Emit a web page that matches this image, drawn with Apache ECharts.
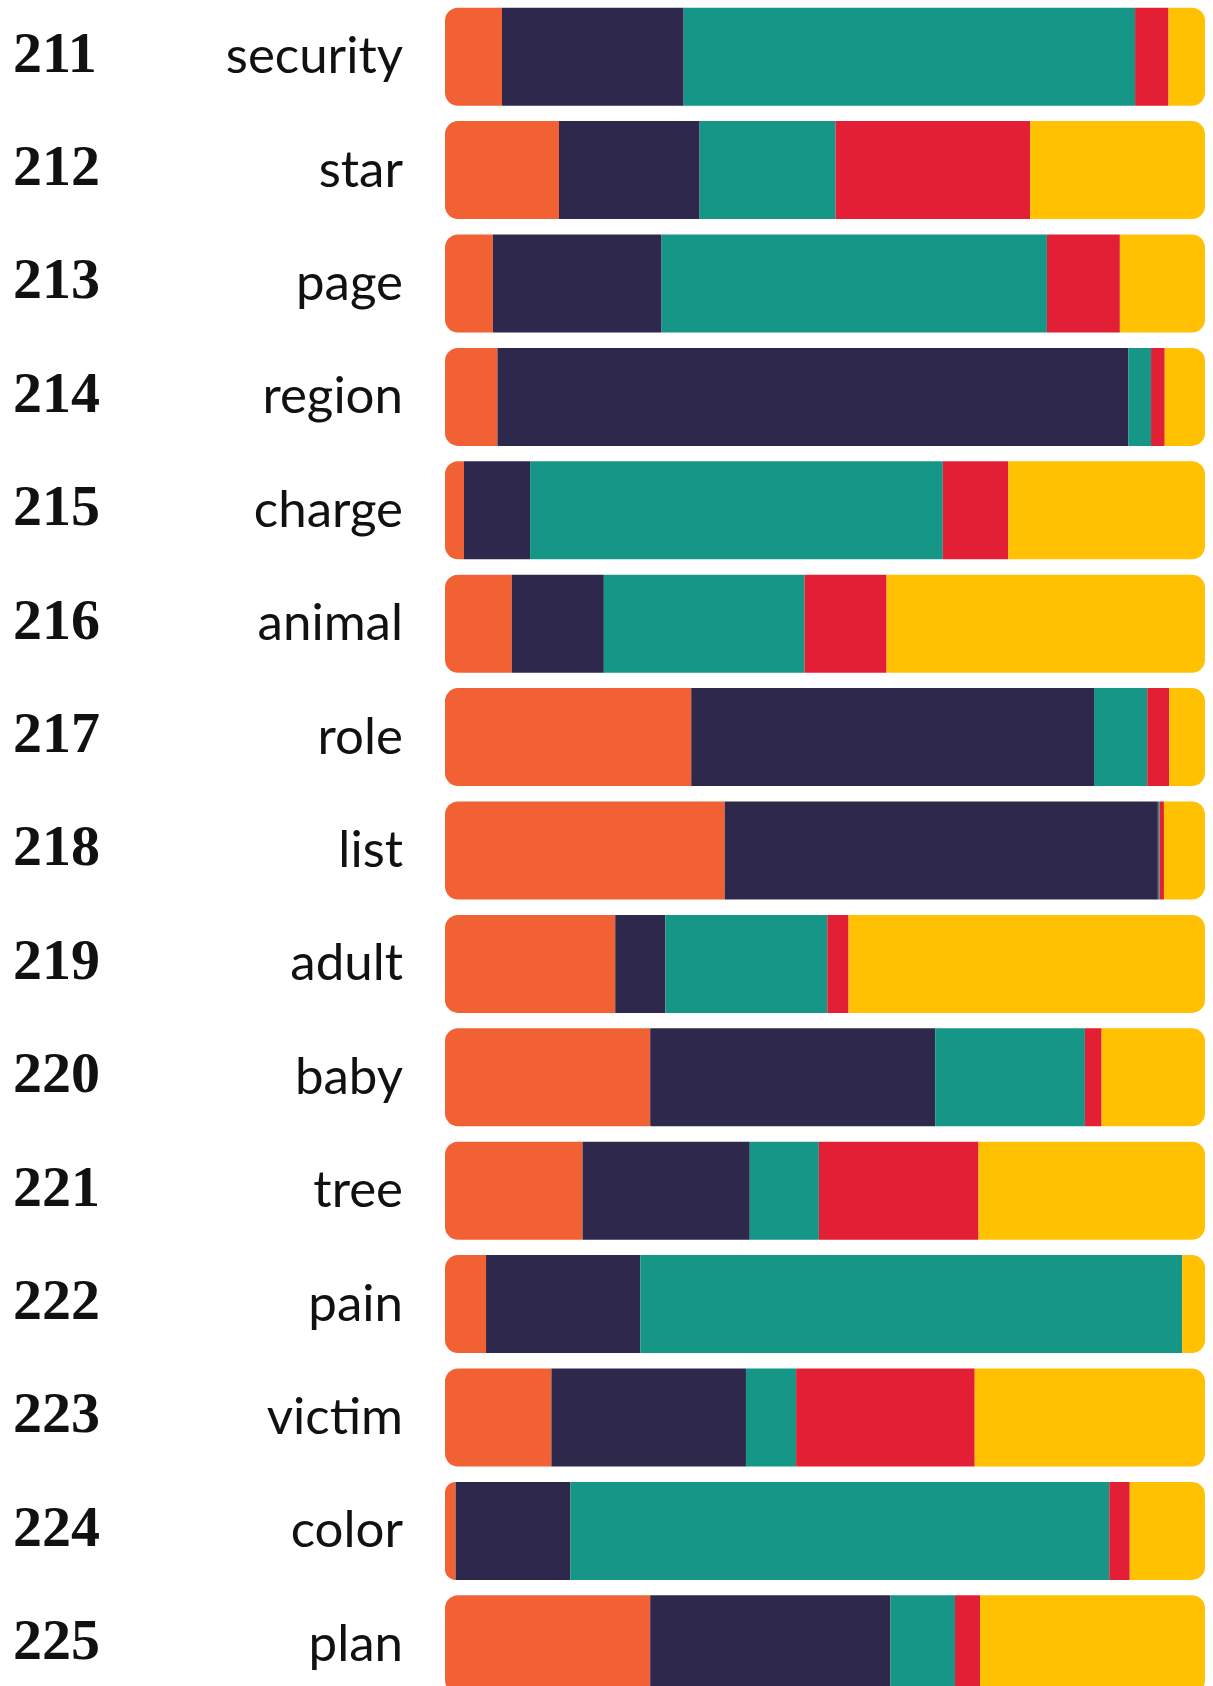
<!DOCTYPE html>
<html>
<head>
<meta charset="utf-8">
<script src="https://cdn.jsdelivr.net/npm/echarts@6/dist/echarts.min.js"></script>
<style>
    html, body { margin: 0; padding: 0; background: #fff; }
    #chart { width: 1213px; height: 1686px; }
</style>
</head>
<body>
<div id="chart"></div>
<script>
// row ids and words, top to bottom
var ids = ['211', '212', '213', '214', '215', '216', '217', '218', '219', '220', '221', '222', '223', '224', '225']
var words = ['security', 'star', 'page', 'region', 'charge', 'animal', 'role', 'list', 'adult', 'baby', 'tree', 'pain', 'victim', 'color', 'plan']

// share of each part (percent), one value per row
var orangePart = [7.5, 15.0, 6.3, 6.9, 2.5, 8.8, 32.4, 36.8, 22.4, 27.0, 18.1, 5.4, 14.0, 1.4, 27.0]
var navyPart = [23.9, 18.5, 22.2, 83.0, 8.7, 12.1, 53.0, 57.0, 6.6, 37.5, 22.0, 20.3, 25.6, 15.1, 31.6]
var tealPart = [59.4, 17.9, 50.7, 3.0, 54.3, 26.4, 7.0, 0.2, 21.3, 19.7, 9.1, 71.3, 6.6, 70.9, 8.5]
var redPart = [4.4, 25.6, 9.6, 1.8, 8.6, 10.8, 2.9, 0.6, 2.8, 2.2, 21.0, 0, 23.5, 2.7, 3.3]
var yellowPart = [4.8, 23.0, 11.2, 5.3, 25.9, 41.9, 4.7, 5.4, 46.9, 13.6, 29.8, 3.0, 30.3, 9.9, 29.6]

var colors = ['#f26134', '#2e284d', '#159686', '#e31f36', '#ffc102']
var parts = [orangePart, navyPart, tealPart, redPart, yellowPart]
var names = ['orange', 'navy', 'teal', 'red', 'yellow']

var myChart = echarts.init(document.getElementById('chart'))

var series = parts.map(function (arr, k) {
    var radius = 0
    if (k === 0) radius = [13, 0, 0, 13]
    if (k === parts.length - 1) radius = [0, 13, 13, 0]
    return {
        name: names[k],
        type: 'bar',
        stack: 'all',
        barWidth: 98,
        silent: true,
        itemStyle: {
            color: colors[k],
            borderRadius: radius
        },
        data: arr
    }
})

var option = {
    animation: false,
    grid: {
        left: 445,
        right: 8,
        top: 0,
        bottom: -15,
        outerBoundsMode: 'none'
    },
    xAxis: {
        type: 'value',
        min: 0,
        max: 100,
        show: false
    },
    yAxis: {
        type: 'category',
        inverse: true,
        data: ids,
        axisLine: { show: false },
        axisTick: { show: false },
        axisLabel: {
            margin: 42,
            formatter: function (v, i) {
                return '{num|' + v + '}{word|' + words[i] + '}'
            },
            rich: {
                num: {
                    width: 150,
                    align: 'left',
                    fontFamily: 'Liberation Serif',
                    fontWeight: 'bold',
                    fontSize: 58,
                    color: '#111'
                },
                word: {
                    width: 240,
                    align: 'right',
                    fontFamily: 'Lato',
                    fontSize: 51,
                    color: '#111'
                }
            }
        }
    },
    series: series
}

myChart.setOption(option)
</script>
</body>
</html>
